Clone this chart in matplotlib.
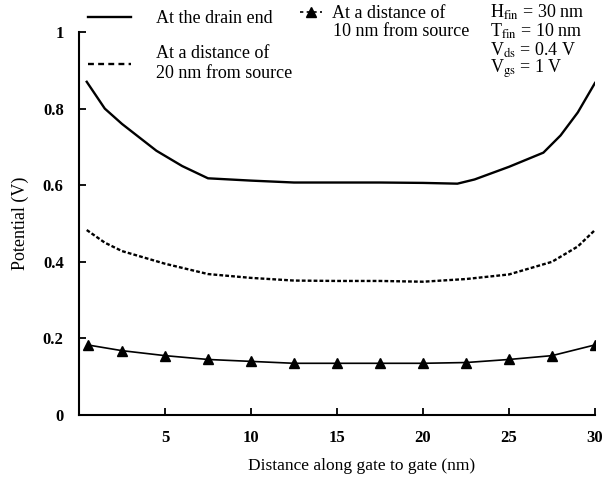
import matplotlib
matplotlib.use('Agg')
import matplotlib.pyplot as plt
from matplotlib.lines import Line2D

plt.rcParams['font.family'] = ['Liberation Serif', 'DejaVu Serif']
plt.rcParams['mathtext.fontset'] = 'stix'

# drain end potential (solid)
x_drain = [0.45, 1.5, 2.5, 3.5, 4.5, 6, 7.5, 10, 12.5, 15, 17.5, 20, 22, 23, 25, 27, 28, 29, 30]
v_drain = [0.87, 0.80, 0.76, 0.725, 0.69, 0.65, 0.618, 0.612, 0.607, 0.607, 0.607, 0.606, 0.604, 0.615, 0.648, 0.685, 0.73, 0.79, 0.867]

# 20 nm from source (dashed)
x_20 = [0.45, 1.5, 2.5, 5, 7.5, 10, 12.5, 15, 17.5, 20, 22.5, 25, 27.5, 29, 30]
v_20 = [0.483, 0.45, 0.428, 0.395, 0.368, 0.358, 0.351, 0.35, 0.35, 0.348, 0.355, 0.367, 0.40, 0.44, 0.483]

# 10 nm from source (triangles)
x_10 = [0.5, 2.5, 5, 7.5, 10, 12.5, 15, 17.5, 20, 22.5, 25, 27.5, 30]
v_10 = [0.183, 0.168, 0.155, 0.145, 0.14, 0.135, 0.135, 0.135, 0.135, 0.137, 0.145, 0.155, 0.183]

xticks = [5, 10, 15, 20, 25, 30]
yticks = [0, 0.2, 0.4, 0.6, 0.8, 1]
ytick_labels = ['0', '0.2', '0.4', '0.6', '0.8', '1']

fig = plt.figure(figsize=(6.09, 4.79), dpi=100)
ax = fig.add_axes([0.1297, 0.1336, 0.8473, 0.7996])

ax.plot(x_drain, v_drain, color='black', lw=1.7)
ax.plot(x_20, v_20, color='black', lw=1.7, ls=(0, (1.6, 0.9)))
ax.plot(x_10, v_10, color='black', lw=1.2, marker='^', ms=6.5)

ax.set_xlim(0, 30)
ax.set_ylim(0, 1)
ax.set_xticks(xticks)
ax.set_yticks(yticks)
ax.set_yticklabels(ytick_labels)
ax.tick_params(direction='in', length=5, width=1.3, labelsize=12)
ax.tick_params(axis='x', pad=11)
ax.tick_params(axis='y', pad=11)
for lab in ax.get_xticklabels() + ax.get_yticklabels():
    lab.set_fontweight('bold')
for s in ['top', 'right']:
    ax.spines[s].set_visible(False)
for s in ['left', 'bottom']:
    ax.spines[s].set_linewidth(1.5)

ax.set_xlabel('Distance along gate to gate (nm)', fontsize=12.5)
ax.xaxis.set_label_coords(0.547, -0.112)
ax.set_ylabel('Potential (V)', fontsize=13, labelpad=10)

# legend, two blocks as in the original
h_solid = Line2D([], [], color='black', lw=1.7)
h_dash = Line2D([], [], color='black', lw=1.7, ls=(0, (2.5, 1.8)))
leg1 = ax.legend([h_solid, h_dash],
                 ['At the drain end', 'At a distance of\n20 nm from source'],
                 frameon=False, fontsize=13, loc='upper left',
                 bbox_to_anchor=(88 / 609, 1 - 10 / 479), bbox_transform=fig.transFigure,
                 borderpad=0, borderaxespad=0, handlelength=2.4, handletextpad=1.35,
                 labelspacing=1.0)
ax.add_artist(leg1)

h_tri = Line2D([], [], color='black', lw=1.2, ls=(0, (2, 2)), marker='^', ms=6.5)
ax.legend([h_tri], ['At a distance of'], frameon=False, fontsize=13,
          loc='upper left', bbox_to_anchor=(300 / 609, 1 - 5 / 479),
          bbox_transform=fig.transFigure, borderpad=0, borderaxespad=0,
          handlelength=1.2, handletextpad=0.6)
fig.text(333 / 609, 1 - 31 / 479, '10 nm from source', fontsize=13, va='center')

fig.text(490 / 609, 1 - 12 / 479, r'H$_{\mathrm{fin}}$ = 30 nm', fontsize=13, va='center')
fig.text(490 / 609, 1 - 31 / 479, r'T$_{\mathrm{fin}}$ = 10 nm', fontsize=13, va='center')
fig.text(490 / 609, 1 - 50 / 479, r'V$_{\mathrm{ds}}$ = 0.4 V', fontsize=13, va='center')
fig.text(490 / 609, 1 - 69 / 479, r'V$_{\mathrm{gs}}$ = 1 V', fontsize=13, va='center')

fig.savefig('out.png', dpi=100)
